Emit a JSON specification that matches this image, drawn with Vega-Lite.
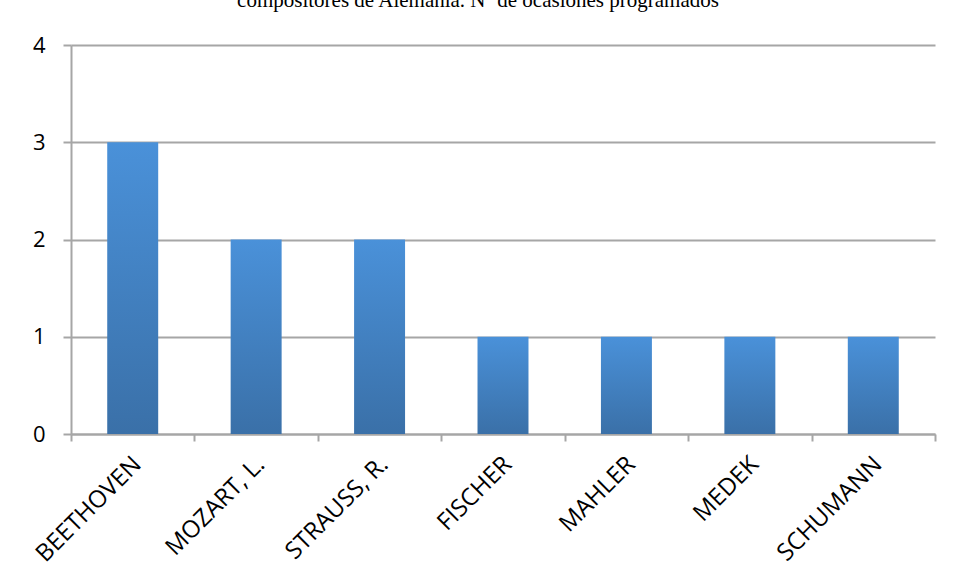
{
  "$schema": "https://vega.github.io/schema/vega-lite/v6.json",
  "width": 864,
  "height": 389,
  "autosize": {"type": "none"},
  "padding": {"left": 71, "top": 45, "right": 21, "bottom": 146},
  "background": "white",
  "title": {
    "text": "compositores de Alemania. Nº de ocasiones programados",
    "font": "Liberation Serif",
    "fontSize": 21,
    "fontWeight": "normal",
    "color": "black",
    "anchor": "middle",
    "frame": "group",
    "dx": -25,
    "baseline": "alphabetic",
    "offset": 6
  },
  "data": {
    "values": [
      {"compositor": "BEETHOVEN", "ocasiones": 3},
      {"compositor": "MOZART, L.", "ocasiones": 2},
      {"compositor": "STRAUSS, R.", "ocasiones": 2},
      {"compositor": "FISCHER", "ocasiones": 1},
      {"compositor": "MAHLER", "ocasiones": 1},
      {"compositor": "MEDEK", "ocasiones": 1},
      {"compositor": "SCHUMANN", "ocasiones": 1}
    ]
  },
  "mark": {
    "type": "bar",
    "width": {"band": 0.413},
    "color": {
      "gradient": "linear",
      "x1": 0, "y1": 0, "x2": 0, "y2": 1,
      "stops": [
        {"offset": 0, "color": "#4a91d9"},
        {"offset": 1, "color": "#3a70a8"}
      ]
    }
  },
  "encoding": {
    "x": {
      "field": "compositor",
      "type": "nominal",
      "sort": null,
      "title": null,
      "scale": {"paddingInner": 0, "paddingOuter": 0},
      "axis": {
        "labelAngle": -45,
        "labelFont": "Open Sans",
        "labelFontSize": 24,
        "labelColor": "black",
        "labelPadding": 11,
        "labelOffset": -4,
        "tickBand": "extent",
        "tickSize": 7,
        "tickColor": "#a6a6a6",
        "tickWidth": 2,
        "domainColor": "#a6a6a6",
        "domainWidth": 2,
        "grid": false
      }
    },
    "y": {
      "field": "ocasiones",
      "type": "quantitative",
      "title": null,
      "scale": {"domain": [0, 4]},
      "axis": {
        "values": [0, 1, 2, 3, 4],
        "format": "d",
        "labelFont": "Open Sans",
        "labelFontSize": 22,
        "labelColor": "black",
        "labelPadding": 18,
        "tickSize": 8,
        "tickColor": "#a6a6a6",
        "tickWidth": 2,
        "domainColor": "#a6a6a6",
        "domainWidth": 2,
        "gridColor": "#a6a6a6",
        "gridWidth": 2,
        "gridOpacity": 1
      }
    }
  },
  "config": {
    "view": {"stroke": null}
  }
}
